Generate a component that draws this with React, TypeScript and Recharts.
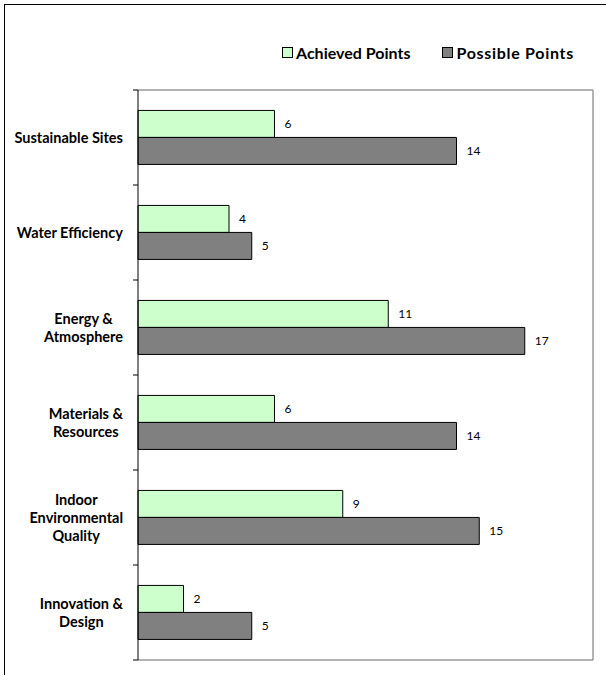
import { BarChart, Bar, XAxis, YAxis, Legend, LabelList, CartesianGrid } from 'recharts';

const categories = [
  'Sustainable Sites',
  'Water Efficiency',
  'Energy &\nAtmosphere',
  'Materials &\nResources',
  'Indoor\nEnvironmental\nQuality',
  'Innovation &\nDesign',
];
const achieved = [6, 4, 11, 6, 9, 2];
const possible = [14, 5, 17, 14, 15, 5];

const data = categories.map((name, i) => ({ name, achieved: achieved[i], possible: possible[i] }));

const FONT = 'Lato, "Liberation Sans", sans-serif';
const PLOT_TOP = 90;
const PLOT_BOTTOM = 660;
const PLOT_RIGHT = 593;
const BAND = (PLOT_BOTTOM - PLOT_TOP) / categories.length;
const LABEL_SIZE = 14.5;

let ctx: CanvasRenderingContext2D | null = null;
const measure = (text: string, font: string) => {
  if (!ctx) ctx = document.createElement('canvas').getContext('2d');
  if (!ctx) return text.length * 8;
  ctx.font = font;
  return ctx.measureText(text).width;
};

// labels centred line by line, block right-aligned to the axis (Excel style),
// tick marks sit on the category boundaries
const CategoryTick = ({ y, payload, index }: any) => {
  const lines = String(payload.value).split('\n');
  const widest = Math.max(...lines.map((l) => measure(l, `bold ${LABEL_SIZE}px Lato`)));
  const cx = 123 - widest / 2;
  const lh = 18;
  const startY = y - ((lines.length - 1) * lh) / 2;
  const axisX = 138;
  return (
    <g>
      <line x1={axisX - 5} x2={axisX} y1={y - BAND / 2} y2={y - BAND / 2} stroke="#000" />
      {index === categories.length - 1 && (
        <line x1={axisX - 5} x2={axisX} y1={y + BAND / 2} y2={y + BAND / 2} stroke="#000" />
      )}
      <text textAnchor="middle" fontFamily={FONT} fontWeight="bold" fontSize={LABEL_SIZE} fill="#000">
        {lines.map((l, i) => (
          <tspan key={i} x={cx} y={startY + i * lh} dy="0.35em">
            {l}
          </tspan>
        ))}
      </text>
    </g>
  );
};

const LegendContent = () => (
  <div style={{ display: 'flex', fontFamily: FONT, fontWeight: 'bold', fontSize: 16, color: '#000', whiteSpace: 'nowrap' }}>
    <span style={{ display: 'flex', alignItems: 'center', marginRight: 32 }}>
      <span style={{ width: 9, height: 9, background: '#CCFFCC', border: '1px solid #000', marginRight: 3 }} />
      Achieved Points
    </span>
    <span style={{ display: 'flex', alignItems: 'center', letterSpacing: 0.7 }}>
      <span style={{ width: 9, height: 9, background: '#808080', border: '1px solid #000', marginRight: 3 }} />
      Possible Points
    </span>
  </div>
);

export default function App() {
  return (
    <div style={{ position: 'fixed', left: 0, top: 0, width: 606, height: 675, overflow: 'hidden', background: '#fff' }}>
      <div style={{ position: 'absolute', left: 4, top: 4, width: 700, height: 700, border: '1px solid #000' }} />
      <div style={{ position: 'absolute', left: 0, top: 0 }}>
        <BarChart
          width={606}
          height={675}
          data={data}
          layout="vertical"
          margin={{ top: PLOT_TOP, right: 606 - PLOT_RIGHT, bottom: 675 - PLOT_BOTTOM, left: 0 }}
          barCategoryGap="21.5%"
          barGap={0}
        >
          <CartesianGrid
            horizontalPoints={[PLOT_TOP, PLOT_BOTTOM]}
            verticalPoints={[PLOT_RIGHT]}
            stroke="#9a9a9a"
            strokeWidth={1.5}
          />
          <XAxis type="number" domain={[0, 20]} hide />
          <YAxis
            type="category"
            dataKey="name"
            width={138}
            axisLine={{ stroke: '#000' }}
            tickLine={false}
            tick={<CategoryTick />}
            interval={0}
          />
          <Legend
            layout="vertical"
            align="center"
            verticalAlign="middle"
            content={<LegendContent />}
            wrapperStyle={{ top: 43, left: 282, width: 320 }}
          />
          <Bar dataKey="achieved" name="Achieved Points" fill="#CCFFCC" stroke="#000" strokeWidth={1} isAnimationActive={false}>
            <LabelList dataKey="achieved" position="right" offset={10} fill="#000" style={{ fill: '#000' }} fontSize={12} fontFamily={FONT} />
          </Bar>
          <Bar dataKey="possible" name="Possible Points" fill="#808080" stroke="#000" strokeWidth={1} isAnimationActive={false}>
            <LabelList dataKey="possible" position="right" offset={10} fill="#000" style={{ fill: '#000' }} fontSize={12} fontFamily={FONT} />
          </Bar>
        </BarChart>
      </div>
    </div>
  );
}
